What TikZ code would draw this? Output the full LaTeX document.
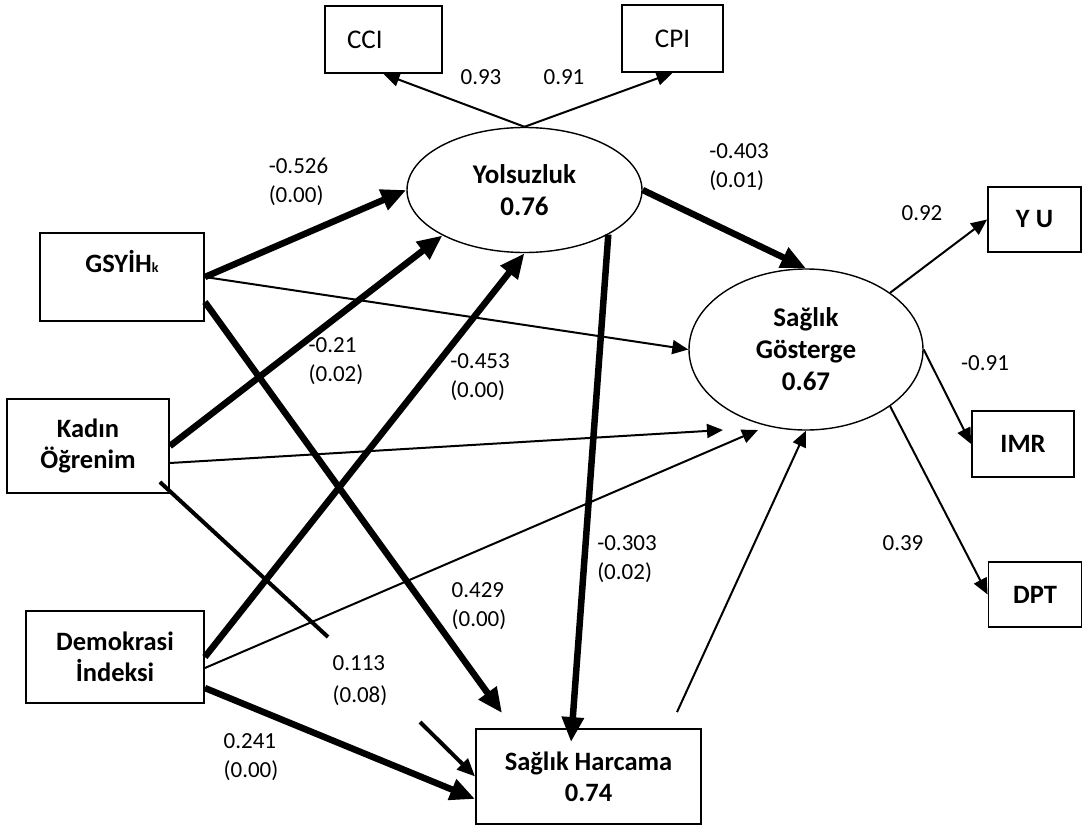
\documentclass[tikz,border=0pt]{standalone}
\usepackage{fontspec}
\setmainfont{Carlito}
\usetikzlibrary{arrows.meta,shapes.geometric,calc}
\begin{document}
\begin{tikzpicture}[x=1pt,y=-1pt,
  lbl/.style={font=\fontsize{23}{29}\selectfont, align=left, inner sep=0pt},
  box/.style={draw, line width=1.8pt, inner sep=0pt, font=\fontsize{26.5}{31}\selectfont\bfseries, align=center},
  obox/.style={draw, line width=1.8pt, inner sep=0pt, font=\fontsize{27}{31}\selectfont},
  lat/.style={draw, ellipse, line width=1.4pt, inner sep=0pt, font=\fontsize{27}{32}\selectfont\bfseries, align=center},
  pthn/.style={line width=2pt, -{Triangle[length=16pt,width=14pt]}},
  pthk/.style={line width=6.5pt, -{Triangle[length=25pt,width=21pt]}},
  pmid/.style={line width=4pt},
  pmidarrow/.style={line width=4pt, -{Triangle[length=18pt,width=15pt]}},
]
\useasboundingbox (0,0) rectangle (1082,825);

% observed / latent nodes
\node[obox, minimum width=117pt, minimum height=67pt, text width=73pt, align=left, inner xsep=22pt] (cci) at (383.5,39.5) {CCI};
\node[obox, minimum width=101pt, minimum height=67pt, align=center] (cpi) at (672.5,38.5) {CPI};
\node[box, minimum width=164pt, minimum height=88pt] (gsyih) at (122,277) {GSYİH{\fontsize{14}{14}\selectfont k}\\\mbox{}};
\node[box, minimum width=162pt, minimum height=94pt] (kadin) at (88,446) {Kadın\\Öğrenim};
\node[box, minimum width=178pt, minimum height=92pt] (demok) at (115,657) {Demokrasi\\İndeksi};
\node[box, minimum width=225pt, minimum height=95pt] (harc) at (588.5,776.5) {Sağlık Harcama\\0.74};
\node[box, minimum width=93pt, minimum height=65pt] (yu) at (1034.5,219.5) {Y U};
\node[box, minimum width=102pt, minimum height=66pt] (imr) at (1023,444) {IMR};
\node[box, minimum width=93pt, minimum height=65pt] (dpt) at (1035,594.5) {DPT};
\node[lat, minimum width=235pt, minimum height=125pt] (yols) at (524.5,190) {Yolsuzluk\\0.76};
\node[lat, minimum width=234pt, minimum height=161pt] (sg) at (806,349.5) {Sağlık\\Gösterge\\0.67};

\coordinate (k1) at (328,637);
\coordinate (k2) at (420,722);

% connectors
\draw[pthn] (yols.north) -- (cci.south);
\draw[pthn] (yols.north) -- (cpi.south);
\draw[pthk] (gsyih.east) -- (yols.west);
\draw[pthn] (gsyih.east) -- (sg.west);
\draw[pthk] ([yshift=-25pt]gsyih.east) -- ([shift={(27,-15)}]harc.north west);
\draw[pthk] (kadin.east) -- (yols.209);
\draw[pthn] ([yshift=-17pt]kadin.east) -- ([shift={(-83,80.5)}]sg.center);
\draw[pmid] ([shift={(-10,36)}]kadin.east) -- (k1);
\draw[pmidarrow] (k2) -- (harc.west);
\draw[pthk] (demok.east) -- (yols.south);
\draw[pthn] ([yshift=-11pt]demok.east) -- ([shift={(-48,80.5)}]sg.center);
\draw[pthk] ([yshift=-31pt]demok.east) -- ([yshift=-22.5pt]harc.west);
\draw[pthk] (yols.-28) -- ([shift={(-17.5,14)}]harc.north);
\draw[pthk] (yols.east) -- (sg.north);
\draw[pthn] ([shift={(88.5,-16)}]harc.north) -- (sg.south);
\draw[pthn] (sg.34) -- (yu.west);
\draw[pthn] (sg.east) -- (imr.west);
\draw[pthn] (sg.-34) -- (dpt.west);

% labels
\node[lbl] (l526) at (298.5,181.5) {-0.526\\(0.00)};
\node[lbl] (l21) at (336,361.5) {-0.21\\(0.02)};
\node[lbl] (l453) at (480,377.5) {-0.453\\(0.00)};
\node[lbl] (l403) at (739,167.5) {-0.403\\(0.01)};
\node[lbl] (l303) at (627,559) {-0.303\\(0.02)};
\node[lbl] (l429) at (479,606) {0.429\\(0.00)};
\node[lbl, font=\fontsize{23}{32}\selectfont] (l113) at (360,681) {0.113\\(0.08)};
\node[lbl] (l241) at (251,757) {0.241\\(0.00)};
\node[lbl] (l93) at (481,77) {0.93};
\node[lbl] (l91) at (564,77) {0.91};
\node[lbl] (l92) at (922,213) {0.92};
\node[lbl] (lm91) at (985,363) {-0.91};
\node[lbl] (l39) at (903,543) {0.39};
\end{tikzpicture}
\end{document}
